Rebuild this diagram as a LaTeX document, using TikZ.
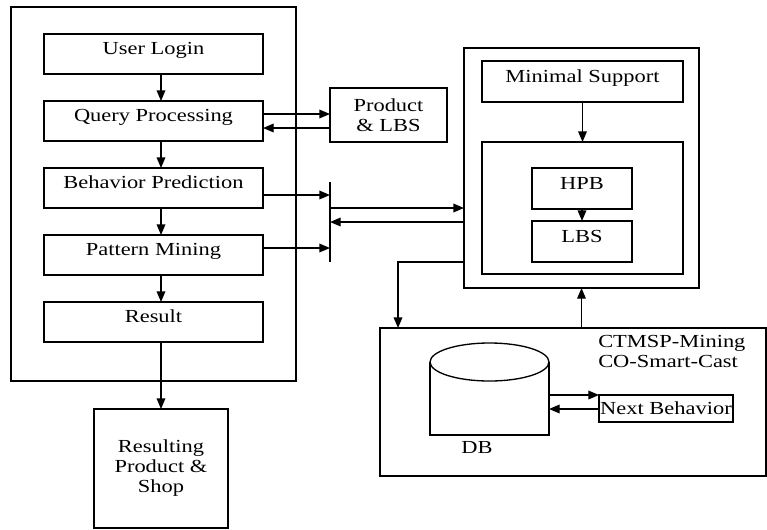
\documentclass[tikz,border=0pt]{standalone}
\usepackage{fontspec}
\setmainfont{Liberation Serif}[FakeStretch=1.22]
\usetikzlibrary{arrows.meta}
\newcommand\mybox[7][]{\node[box, minimum width={(#5-#3)*0.75pt}, minimum height={(#6-#4)*0.75pt}, #1] (#2) at ({(#3+#5)/2},{(#4+#6)/2}) {#7};}
\tikzset{
  box/.style={draw, line width=1pt, inner sep=0pt, outer sep=0pt, align=center, font=\fontsize{13.8}{15}\selectfont},
  up/.style={text height=10pt, text depth=9pt},
  lbl/.style={inner sep=0pt, align=left, font=\fontsize{13.8}{15}\selectfont},
  arr/.style={line width=1pt, -{Triangle[length=8pt,width=6.5pt]}},
  ln/.style={line width=1pt}
}
\begin{document}
\begin{tikzpicture}[x=0.75pt,y=-0.75pt]
\useasboundingbox (0,0) rectangle (767,529);
% left column
\mybox{LB}{11}{7}{296}{381}{}
\mybox[up]{UL}{44}{34}{263}{74}{User Login}
\mybox[up]{QP}{44}{101}{263}{141}{Query Processing}
\mybox[up]{BP}{44}{168}{263}{208}{Behavior Prediction}
\mybox[up]{PM}{44}{235}{263}{275}{Pattern Mining}
\mybox[up]{RS}{44}{302}{263}{342}{Result}
\mybox{RP}{94}{409}{228}{528}{Resulting\\Product \&\\Shop}
\coordinate (cx) at (161,0);
\draw[arr] (UL.south -| cx) -- (QP.north -| cx);
\draw[arr] (QP.south -| cx) -- (BP.north -| cx);
\draw[arr] (BP.south -| cx) -- (PM.north -| cx);
\draw[arr] (PM.south -| cx) -- (RS.north -| cx);
\draw[arr] (RS.south -| cx) -- (RP.north -| cx);
% product & LBS
\mybox{PL}{330}{88}{447}{142}{Product\\\& LBS}
\coordinate (q1) at (330,114);
\coordinate (q2) at (330,128);
\draw[arr] (QP.east |- q1) -- (q1);
\draw[arr] (q2) -- (QP.east |- q2);
% bar
\coordinate (bt) at (330,182);
\coordinate (bb) at (330,262);
\draw[ln] (bt) -- (bb);
\coordinate (b1) at (330,195);
\coordinate (b2) at (330,248);
\coordinate (b3) at (330,208);
\coordinate (b4) at (330,222);
\draw[arr] (BP.east |- b1) -- (b1);
\draw[arr] (PM.east |- b2) -- (b2);
% right box
\mybox{RB}{464}{48}{699}{288}{}
\mybox[up]{MS}{482}{61}{683}{102}{Minimal Support}
\mybox{IB}{482}{142}{683}{274}{}
\mybox[up]{HPB}{532}{168}{632}{209}{HPB}
\mybox[up]{LBS}{532}{221}{632}{262}{LBS}
\draw[arr] (MS.south) -- (IB.north);
\draw[arr] (HPB.south) -- (LBS.north);
\draw[arr] (b3) -- (RB.west |- b3);
\draw[arr] (RB.west |- b4) -- (b4);
% bottom box
\mybox{BB}{380}{328}{766}{476}{}
\coordinate (c1) at (398,262);
\draw[arr] (RB.west |- c1) -- (c1) -- (BB.north -| c1);
\draw[arr] (BB.north -| RB.south) -- (RB.south);
\node[lbl, anchor=north west] (CT) at (598,335) {CTMSP-Mining\\CO-Smart-Cast};
% DB cylinder
\node[inner sep=0pt, outer sep=0pt, minimum width={119*0.75pt}, minimum height={92*0.75pt}] (DB) at (489.5,389) {};
\draw[ln] (430,362) -- (430,435) -- (549,435) -- (549,362);
\draw[ln, fill=white] (489.5,362) ellipse [x radius=44.6pt, y radius=14.25pt];
\node[lbl] (DBl) at (477,447) {DB};
\mybox{NB}{599}{395}{733}{422}{Next Behavior}
\coordinate (d1) at (549,395);
\coordinate (d2) at (549,409);
\draw[arr] (d1) -- (NB.west |- d1);
\draw[arr] (NB.west |- d2) -- (d2);
\end{tikzpicture}
\end{document}
